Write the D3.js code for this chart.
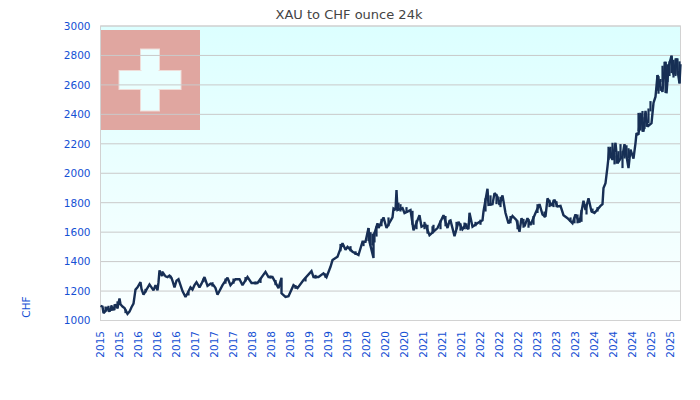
<!DOCTYPE html>
<html><head><meta charset="utf-8">
<script src="https://cdn.jsdelivr.net/npm/d3@7/dist/d3.min.js"></script>
<style>html,body{margin:0;padding:0;background:#fff}svg{display:block}text{font-family:"DejaVu Sans",sans-serif}</style>
</head><body><svg id="c" width="700" height="400"></svg>
<script>
const xTickLabels = ["2015","2015","2016","2016","2016","2017","2017","2017","2018","2018","2018","2019","2019","2019","2020","2020","2020","2021","2021","2021","2022","2022","2022","2023","2023","2023","2024","2024","2024","2025","2025"];
const yTicks = [1000,1200,1400,1600,1800,2000,2200,2400,2600,2800,3000];
// time in sample periods (about 6.4 days each) since the start of the series
const periods = [
0,2,3,5,7,9,11,13,15,17,19,20,22,24,27,29,31,33,35,37,
40,41,43,46,49,51,53,55,57,58,59,61,63,65,67,69,71,72,74,76,
78,80,82,85,87,90,92,94,96,99,101,104,107,110,113,115,117,122,127,130,
135,139,142,147,151,157,165,168,172,178,181,181,185,188,193,197,203,211,213,218,
223,226,230,232,237,242,245,247,252,258,262,265,268,269,273,273,277,278,283,286,
292,293,295,296,297,302,304,310,313,319,321,325,329,337,343,347,349,350,354,358,
362,365,368,369,372,378,382,383,387,388,392,394,397,399,402,405,408,412,416,419,
421,424,427,430,435,439,442,445,447,451,454,457,460,463,467,472,475,479,483,485,
488,491,494,500,502,503,505,507,509,512,515,517,522,524,528,530,533,535,536,538,
540,543,545,547,551,553,555,557,559,562,563,565,566,568,571,573,576,577,579,580];
const goldCHF = [
1100,1095,1050,1065,1090,1060,1095,1070,1110,1085,1150,1110,1095,1085,1045,1060,1090,1115,1210,1225,
1260,1215,1175,1210,1245,1225,1205,1240,1205,1260,1340,1310,1320,1300,1295,1305,1290,1270,1225,1270,
1280,1240,1200,1160,1185,1225,1210,1240,1260,1225,1250,1295,1235,1250,1240,1220,1175,1240,1290,1240,
1280,1280,1240,1295,1255,1255,1330,1295,1295,1220,1290,1185,1160,1165,1240,1220,1275,1335,1295,1295,
1320,1295,1365,1410,1433,1525,1480,1500,1467,1445,1535,1535,1628,1535,1425,1570,1660,1628,1700,1628,
1700,1760,1750,1885,1750,1763,1730,1750,1613,1715,1637,1650,1580,1628,1715,1628,1677,1680,1573,1670,
1620,1650,1620,1732,1637,1665,1680,1740,1895,1785,1790,1865,1840,1785,1850,1730,1660,1710,1682,1603,
1695,1640,1695,1648,1730,1790,1720,1705,1830,1780,1820,1775,1778,1715,1695,1660,1720,1665,1813,1750,
1830,1740,1730,1778,1790,1900,1933,2045,2170,2090,2207,2068,2120,2198,2035,2160,2100,2205,2272,2262,
2410,2282,2423,2316,2340,2477,2520,2667,2600,2553,2640,2757,2543,2720,2798,2670,2780,2700,2610,2740];
// short-term swings in the noisier stretches: period, low, high
const swingPeriods = [5,8,11,14,17,25,45,62,70,88,103,112,125,133,145,155,160,170,175,195,205,215,225,240,250,255,263,268,270,272,274,276,281,288,298,300,306,312,316,324,327,332,333,340,345,356,360,364,366,375,380,385,390,396,400,410,417,423,428,433,437,444,449,453,456,470,474,477,481,486,492,497,508,510,512,514,516,518,520,522,524,526,528,538,540,542,544,546,548,550,557,558,560,562,564,565,567,569,571,573,575,577,579];
const swingLow  = [1060,1060,1065,1070,1080,1050,1190,1300,1285,1170,1260,1230,1250,1250,1265,1245,1255,1285,1240,1215,1265,1285,1290,1470,1470,1445,1505,1540,1510,1510,1530,1570,1640,1640,1750,1740,1730,1650,1620,1620,1590,1590,1600,1620,1640,1620,1610,1620,1620,1640,1650,1740,1780,1790,1770,1660,1620,1630,1630,1650,1730,1700,1770,1770,1770,1670,1660,1660,1670,1720,1730,1740,2090,2100,2090,2060,2065,2080,2100,2035,2100,2110,2100,2285,2290,2282,2300,2316,2340,2420,2560,2540,2560,2620,2640,2545,2620,2660,2680,2650,2660,2670,2610];
const swingHigh = [1095,1100,1105,1110,1130,1075,1215,1335,1305,1195,1285,1260,1285,1285,1295,1265,1285,1305,1275,1240,1290,1310,1320,1520,1505,1470,1540,1628,1600,1590,1600,1640,1690,1700,1800,1790,1770,1745,1680,1670,1650,1640,1650,1680,1710,1670,1660,1665,1660,1670,1685,1830,1850,1860,1840,1710,1680,1690,1690,1710,1790,1740,1820,1820,1810,1700,1700,1720,1750,1790,1760,1770,2180,2180,2207,2140,2120,2150,2198,2150,2180,2190,2170,2410,2380,2423,2380,2360,2440,2490,2667,2660,2640,2730,2757,2757,2740,2760,2798,2770,2780,2780,2760];
const W=700,H=400,L=100.5,R=680.5,T=26,B=320.5;
const blue="#1550d4";
const svg=d3.select("#c");
const x=d3.scaleLinear().domain([0,d3.max(periods)]).range([L,R]);
const y=d3.scaleLinear().domain([1000,3000]).range([B,T]);
const xTick=d3.scalePoint().domain(d3.range(xTickLabels.length)).range([99.5,669.5]);
const defs=svg.append("defs");
const g=defs.append("linearGradient").attr("id","bg").attr("x1",0).attr("y1",0).attr("x2",0).attr("y2",1);
g.append("stop").attr("offset","0%").attr("stop-color","#dcffff");
g.append("stop").attr("offset","100%").attr("stop-color","#fbffff");
svg.append("rect").attr("x",L).attr("y",T).attr("width",R-L).attr("height",B-T).attr("fill","url(#bg)");
// flag
svg.append("rect").attr("x",L).attr("y",30).attr("width",99.5).attr("height",100).attr("fill","#e0a6a0");
svg.append("rect").attr("x",140.5).attr("y",49).attr("width",19).attr("height",62).attr("fill","#eaffff").attr("stroke","#f0dcd8");
svg.append("rect").attr("x",119).attr("y",70.5).attr("width",62).attr("height",19).attr("fill","#eaffff").attr("stroke","#f0dcd8");
svg.append("rect").attr("x",141.5).attr("y",50).attr("width",17).attr("height",60).attr("fill","#eaffff");
// y axis + grid
const yAxis=svg.append("g").attr("transform",`translate(${L},0)`)
  .call(d3.axisLeft(y).tickValues(yTicks).tickSize(0).tickPadding(10).tickFormat(d3.format("d")));
yAxis.select(".domain").remove();
yAxis.selectAll("text").attr("fill",blue).style("font-size","10.5px");
svg.append("g").selectAll("line").data(yTicks).join("line")
  .attr("x1",L).attr("x2",R).attr("y1",d=>y(d)).attr("y2",d=>y(d)).attr("stroke","#c9c9c9").attr("stroke-width",1);
svg.append("rect").attr("x",L).attr("y",T).attr("width",R-L).attr("height",B-T).attr("fill","none").attr("stroke","#d2d2d2").attr("stroke-width",1);
// x axis
const xAxis=svg.append("g").attr("transform",`translate(0,${B})`)
  .call(d3.axisBottom(xTick).tickSize(0).tickFormat(i=>xTickLabels[i]));
xAxis.select(".domain").remove();
xAxis.selectAll("text").attr("fill",blue).style("font-size","10.5px")
  .attr("text-anchor","end").attr("dy","0.35em").attr("x",0).attr("y",0)
  .attr("transform","translate(0,10.5) rotate(-90)");
// line
const line=d3.line().x((d,i)=>x(periods[i])).y(d=>y(d));
svg.append("path").datum(goldCHF).attr("d",line).attr("fill","none").attr("stroke","#172f55").attr("stroke-width",2.4).attr("stroke-linejoin","miter").attr("stroke-miterlimit",2);
svg.append("g").selectAll("line").data(swingPeriods).join("line")
  .attr("x1",d=>x(d)).attr("x2",d=>x(d))
  .attr("y1",(d,i)=>y(swingLow[i])).attr("y2",(d,i)=>y(swingHigh[i]))
  .attr("stroke","#172f55").attr("stroke-width",2.2);
// titles
svg.append("text").attr("x",349).attr("y",19).attr("text-anchor","middle").attr("fill","#444").style("font-size","13px").text("XAU to CHF ounce 24k");
svg.append("text").attr("transform","translate(30,307) rotate(-90)").attr("text-anchor","middle").attr("fill",blue).style("font-size","10.5px").text("CHF");
</script></body></html>
